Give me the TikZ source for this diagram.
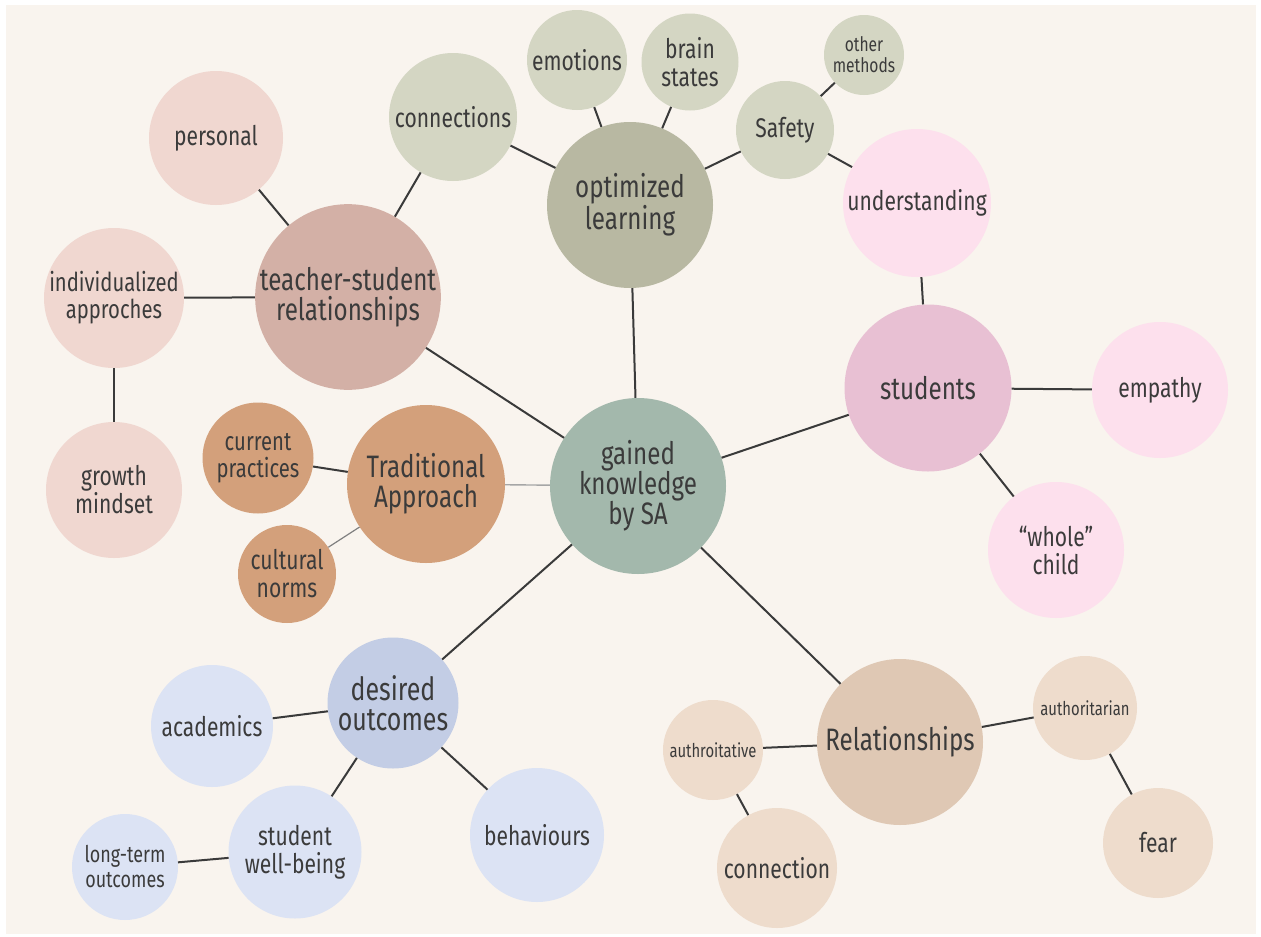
\documentclass[tikz,border=0pt]{standalone}
\usepackage{fontspec}
\setmainfont{Fira Sans}[FakeStretch=0.78]
\definecolor{paper}{HTML}{F9F4EE}
\definecolor{ink}{HTML}{3B3B3B}
\definecolor{wire}{HTML}{3A3A3A}
\definecolor{hub}{HTML}{A3B8AC}
\definecolor{sage}{HTML}{B8B8A2}
\definecolor{sagelt}{HTML}{D4D6C3}
\definecolor{rose}{HTML}{D3B0A6}
\definecolor{roselt}{HTML}{F0D7D0}
\definecolor{tan}{HTML}{D3A07B}
\definecolor{pink}{HTML}{E8C0D3}
\definecolor{pinklt}{HTML}{FDE0ED}
\definecolor{sand}{HTML}{DFC8B4}
\definecolor{sandlt}{HTML}{EEDCCC}
\definecolor{blue}{HTML}{C3CDE5}
\definecolor{bluelt}{HTML}{DCE3F4}
\tikzset{
  bub/.style={circle, inner sep=0pt, align=center, text=ink},
  fbig/.style={font=\fontsize{31}{30}\selectfont},
  fmid/.style={font=\fontsize{27}{28}\selectfont},
  fsml/.style={font=\fontsize{26}{27}\selectfont},
  ftiny/.style={font=\fontsize{19}{21}\selectfont},
  link/.style={draw=wire, line width=2pt},
}
\begin{document}
\begin{tikzpicture}[x=1pt,y=-1pt]
\useasboundingbox (0,0) rectangle (1261,937);
\fill[white] (0,0) rectangle (1261,937);
\fill[paper] (6,5) rectangle (1256,934);

% hub
\node[bub, fbig, fill=hub, minimum size=176pt] (gk) at (638,486) {gained\\knowledge\\by SA};

% optimized learning branch
\node[bub, fbig, fill=sage, minimum size=166pt] (opt) at (630,205) {optimized\\learning};
\node[bub, fmid, fill=sagelt, minimum size=128pt] (conn) at (453,117) {connections};
\node[bub, fmid, fill=sagelt, minimum size=100pt] (emo) at (577,60) {emotions};
\node[bub, fmid, fill=sagelt, minimum size=97pt] (brain) at (690,62) {brain\\states};
\node[bub, fmid, fill=sagelt, minimum size=98pt] (safe) at (785,130) {Safety};
\node[bub, font=\fontsize{20}{21}\selectfont, fill=sagelt, minimum size=80pt] (other) at (864,55) {other\\methods};

% students branch
\node[bub, fmid, fill=pinklt, minimum size=148pt] (under) at (917,203) {understanding};
\node[bub, fbig, fill=pink, minimum size=167pt] (stu) at (928,388) {students};
\node[bub, fmid, fill=pinklt, minimum size=136pt] (emp) at (1160,390) {empathy};
\node[bub, fmid, fill=pinklt, minimum size=136pt] (whole) at (1056,550) {“whole”\\child};

% teacher-student branch
\node[bub, fbig, fill=rose, minimum size=184pt] (ts) at (348,297) {teacher-student\\relationships};
\node[bub, fmid, fill=roselt, minimum size=134pt] (pers) at (216,138) {personal};
\node[bub, fsml, fill=roselt, minimum size=140pt] (indiv) at (114,298) {individualized\\approches};
\node[bub, fmid, fill=roselt, minimum size=136pt] (grow) at (114,490) {growth\\mindset};

% traditional approach branch
\node[bub, fbig, fill=tan, minimum size=158pt] (trad) at (426,484) {Traditional\\Approach};
\node[bub, fsml, fill=tan, minimum size=111pt] (cur) at (258,458) {current\\practices};
\node[bub, fmid, fill=tan, minimum size=98pt] (cult) at (287,574) {cultural\\norms};

% desired outcomes branch
\node[bub, font=\fontsize{32}{30}\selectfont, fill=blue, minimum size=131pt] (des) at (393,703) {desired\\outcomes};
\node[bub, fmid, fill=bluelt, minimum size=122pt] (acad) at (212,726) {academics};
\node[bub, fmid, fill=bluelt, minimum size=133pt] (well) at (295,852) {student\\well-being};
\node[bub, fmid, fill=bluelt, minimum size=134pt] (beh) at (537,835) {behaviours};
\node[bub, font=\fontsize{23}{25}\selectfont, fill=bluelt, minimum size=106pt] (long) at (125,867) {long-term\\outcomes};

% relationships branch
\node[bub, fbig, fill=sand, minimum size=166pt] (rel) at (900,742) {Relationships};
\node[bub, ftiny, fill=sandlt, minimum size=104pt] (autn) at (1085,708) {authoritarian};
\node[bub, fmid, fill=sandlt, minimum size=110pt] (fear) at (1158,843) {fear};
\node[bub, ftiny, fill=sandlt, minimum size=100pt] (autv) at (713,750) {authroitative};
\node[bub, fmid, fill=sandlt, minimum size=120pt] (cnx) at (777,868) {connection};

% connectors
\draw[link] (gk) -- (opt);
\draw[link] (gk) -- (ts);
\draw[draw=gray!70, line width=1.4pt] (gk) -- (trad);
\draw[link] (gk) -- (stu);
\draw[link] (gk) -- (des);
\draw[link] (gk) -- (rel);
\draw[link] (opt) -- (conn);
\draw[link] (opt) -- (emo);
\draw[link] (opt) -- (brain);
\draw[link] (opt) -- (safe);
\draw[link] (safe) -- (other);
\draw[link] (safe) -- (under);
\draw[link] (under) -- (stu);
\draw[link] (stu) -- (emp);
\draw[link] (stu) -- (whole);
\draw[link] (ts) -- (pers);
\draw[link] (ts) -- (conn);
\draw[link] (ts) -- (indiv);
\draw[link] (indiv) -- (grow);
\draw[link] (trad) -- (cur);
\draw[draw=gray, line width=1.2pt] (trad) -- (cult);
\draw[link] (des) -- (acad);
\draw[link] (des) -- (well);
\draw[link] (des) -- (beh);
\draw[link] (well) -- (long);
\draw[link] (rel) -- (autv);
\draw[link] (rel) -- (autn);
\draw[link] (autv) -- (cnx);
\draw[link] (autn) -- (fear);
\end{tikzpicture}
\end{document}
